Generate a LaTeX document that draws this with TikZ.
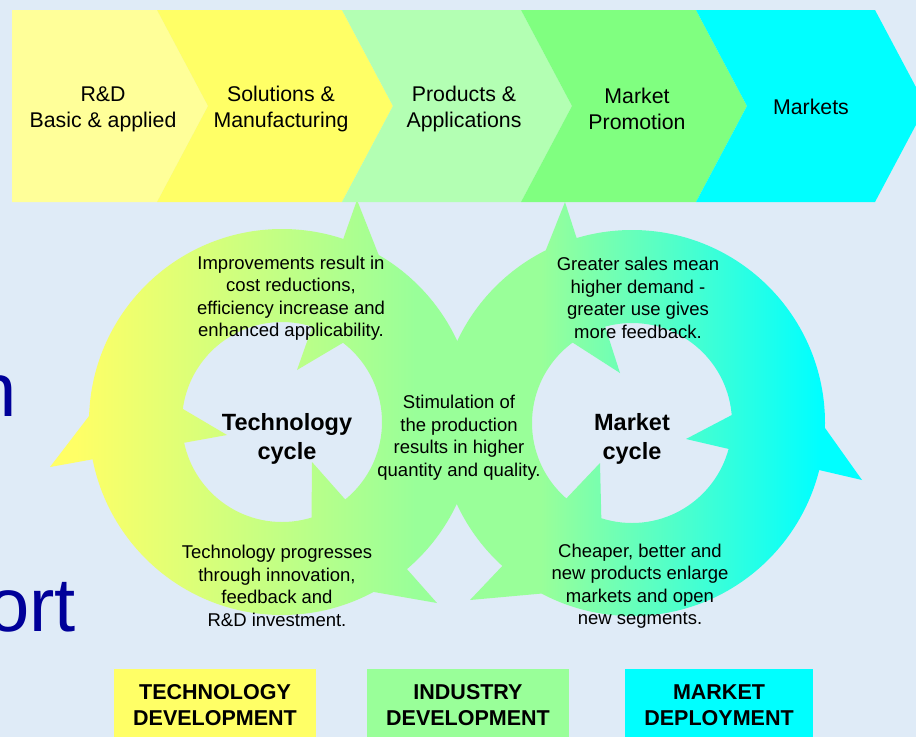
\documentclass[tikz,border=0pt]{standalone}
\usepackage{fontspec}
\setmainfont{Liberation Sans}
\definecolor{bg}{HTML}{DFEBF7}
\definecolor{chevA}{HTML}{FFFF99}
\definecolor{chevB}{HTML}{FFFF66}
\definecolor{chevC}{HTML}{B3FFB3}
\definecolor{chevD}{HTML}{80FF80}
\definecolor{chevE}{HTML}{00FFFF}
\definecolor{ringY}{HTML}{FFFF66}
\definecolor{ringG}{HTML}{99FF99}
\definecolor{ringC}{HTML}{00FFFF}
\definecolor{fragblue}{HTML}{000099}
\pgfdeclarehorizontalshading{lring}{100bp}{color(0bp)=(ringY); color(28bp)=(ringY); color(68bp)=(ringG); color(100bp)=(ringG)}
\pgfdeclarehorizontalshading{rring}{100bp}{color(0bp)=(ringG); color(37bp)=(ringG); color(70bp)=(ringC); color(100bp)=(ringC)}
\tikzset{
  bandtext/.style={inner sep=0pt, align=center, font=\fontsize{21.3}{26}\selectfont},
  notetext/.style={inner sep=0pt, align=center, font=\fontsize{18.5}{22.5}\selectfont},
  cyctext/.style={inner sep=0pt, align=center, font=\fontsize{23.5}{29}\selectfont\bfseries},
  tagtext/.style={inner sep=0pt, align=center, font=\fontsize{21.5}{26}\selectfont\bfseries},
  fragtext/.style={inner sep=0pt, text=fragblue, font=\fontsize{76}{80}\selectfont},
}
\begin{document}
\begin{tikzpicture}[x=1pt, y=-1pt]
\useasboundingbox (0,0) rectangle (916,737);
\fill[bg] (0,0) rectangle (916,737);

% background text fragments
\node[fragtext, anchor=base east] (fragn) at (17,416) {n};
\node[fragtext, anchor=base east] (fragort) at (76,631) {ort};

% left cycle (technology)
\coordinate (CL) at (282,422);
\shade[shading=lring]
  (CL) ++(193,0) arc[start angle=0, end angle=360, radius=193] -- cycle
  (CL) ++(100,0) arc[start angle=0, end angle=-360, radius=100] -- cycle
  (50,467) -- (122,373) -- (227,435) -- cycle
  (357,200) -- (400,309) -- (297,370) -- cycle
  (437,603) -- (311,581) -- (312,462) -- cycle;

% right cycle (market)
\coordinate (CR) at (632,423);
\shade[shading=rring]
  (CR) ++(193,0) arc[start angle=0, end angle=360, radius=193] -- cycle
  (CR) ++(100,0) arc[start angle=0, end angle=-360, radius=100] -- cycle
  (862,480) -- (686,439) -- (793,383) -- cycle
  (565,202) -- (620,373) -- (522,310) -- cycle
  (470,600) -- (600,463) -- (603,588) -- cycle;

% chevron band
\fill[chevA] (12,10) -- (157,10) -- (208,106) -- (157,202) -- (12,202) -- cycle;
\fill[chevB] (157,10) -- (342,10) -- (393,106) -- (342,202) -- (157,202) -- (208,106) -- cycle;
\fill[chevC] (342,10) -- (521,10) -- (572,106) -- (521,202) -- (342,202) -- (393,106) -- cycle;
\fill[chevD] (521,10) -- (696,10) -- (747,106) -- (696,202) -- (521,202) -- (572,106) -- cycle;
\fill[chevE] (696,10) -- (875,10) -- (926,106) -- (875,202) -- (696,202) -- (747,106) -- cycle;

\node[bandtext] (rd) at (103,109) {R\&D\\Basic \& applied};
\node[bandtext] (sol) at (281,109) {Solutions \&\\Manufacturing};
\node[bandtext] (prod) at (464,109) {Products \&\\Applications};
\node[bandtext] (promo) at (637,109) {Market\\Promotion};
\node[bandtext] (mkts) at (811,107) {Markets};

% cycle texts
\node[notetext] (impr) at (291,298) {Improvements result in\\cost reductions,\\efficiency increase and\\enhanced applicability.};
\node[notetext] (sales) at (638,298) {Greater sales mean\\higher demand -\\greater use gives\\more feedback.};
\node[notetext] (stim) at (459,437.5) {Stimulation of\\the production\\results in higher\\quantity and quality.};
\node[notetext] (prog) at (277,586) {Technology progresses\\through innovation,\\feedback and\\R\&D investment.};
\node[notetext] (cheap) at (640,586) {Cheaper, better and\\new products enlarge\\markets and open\\new segments.};
\node[cyctext] (tcyc) at (287,438.5) {Technology\\cycle};
\node[cyctext] (mcyc) at (632,438.5) {Market\\cycle};

% bottom tags
\fill[ringY] (114,669) rectangle (316,737);
\fill[ringG] (367,669) rectangle (569,737);
\fill[ringC] (625,669) rectangle (813,737);
\node[tagtext] (ttag) at (215,705.5) {TECHNOLOGY\\DEVELOPMENT};
\node[tagtext] (itag) at (468,705.5) {INDUSTRY\\DEVELOPMENT};
\node[tagtext] (mtag) at (719,705.5) {MARKET\\DEPLOYMENT};
\end{tikzpicture}
\end{document}
